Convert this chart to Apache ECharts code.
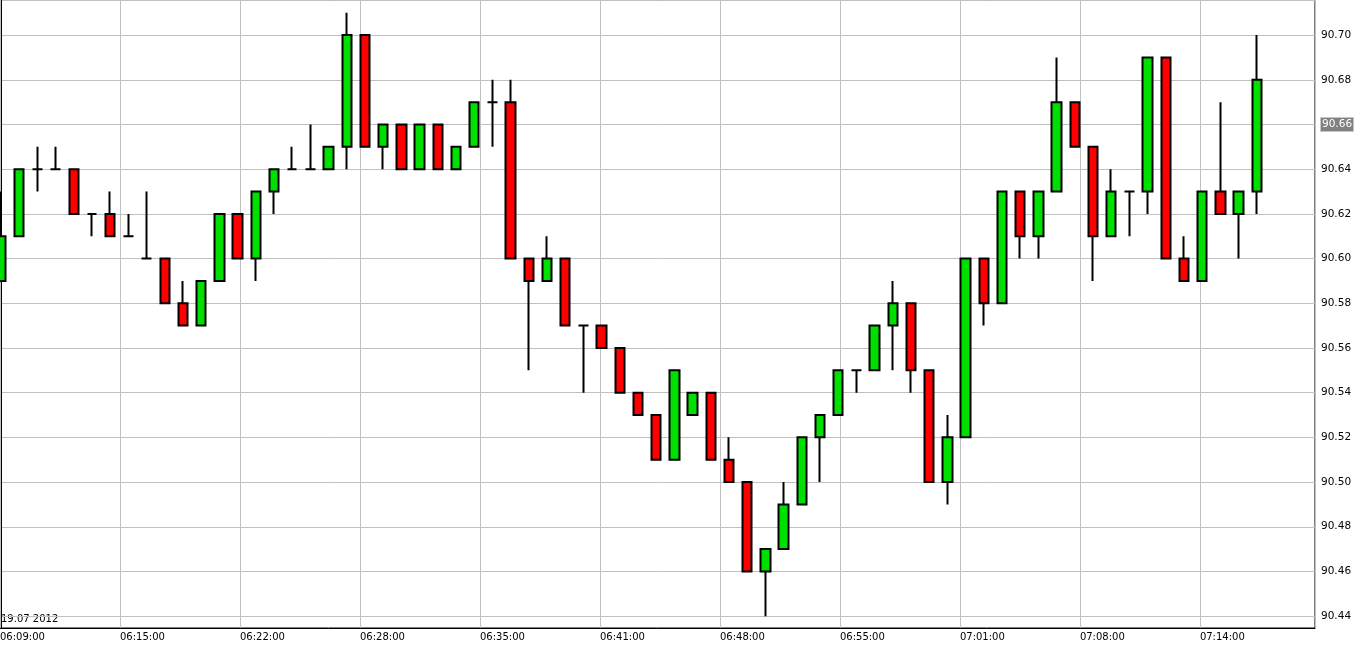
<!DOCTYPE html>
<html><head><meta charset="utf-8">
<script src="https://cdn.jsdelivr.net/npm/echarts@6/dist/echarts.min.js"></script>
<style>html,body{margin:0;padding:0;background:#fff}#c{width:1361px;height:649px}</style>
</head><body><div id="c"></div>
<script>
const open  = [90.59,90.61,90.64,90.64,90.64,90.62,90.62,90.61,90.60,90.60,90.58,90.57,90.59,90.62,90.60,90.63,90.64,90.64,90.64,90.65,90.70,90.65,90.66,90.64,90.66,90.64,90.65,90.67,90.67,90.60,90.59,90.60,90.57,90.57,90.56,90.54,90.53,90.51,90.53,90.54,90.51,90.50,90.46,90.47,90.49,90.52,90.53,90.55,90.55,90.57,90.58,90.55,90.50,90.52,90.60,90.58,90.63,90.61,90.63,90.67,90.65,90.61,90.63,90.63,90.69,90.60,90.59,90.63,90.62,90.63];
const high  = [90.63,90.64,90.65,90.65,90.64,90.62,90.63,90.62,90.63,90.60,90.59,90.59,90.62,90.62,90.63,90.64,90.65,90.66,90.65,90.71,90.70,90.66,90.66,90.66,90.66,90.65,90.67,90.68,90.68,90.60,90.61,90.60,90.57,90.57,90.56,90.54,90.53,90.55,90.54,90.54,90.52,90.50,90.47,90.50,90.52,90.53,90.55,90.55,90.57,90.59,90.58,90.55,90.53,90.60,90.60,90.63,90.63,90.63,90.69,90.67,90.65,90.64,90.63,90.69,90.69,90.61,90.63,90.67,90.63,90.70];
const low   = [90.59,90.61,90.63,90.64,90.62,90.61,90.61,90.61,90.60,90.58,90.57,90.57,90.59,90.60,90.59,90.62,90.64,90.64,90.64,90.64,90.65,90.64,90.64,90.64,90.64,90.64,90.65,90.65,90.60,90.55,90.59,90.57,90.54,90.56,90.54,90.53,90.51,90.51,90.53,90.51,90.50,90.46,90.44,90.47,90.49,90.50,90.53,90.54,90.55,90.55,90.54,90.50,90.49,90.52,90.57,90.58,90.60,90.60,90.63,90.65,90.59,90.61,90.61,90.62,90.60,90.59,90.59,90.62,90.60,90.62];
const close = [90.61,90.64,90.64,90.64,90.62,90.62,90.61,90.61,90.60,90.58,90.57,90.59,90.62,90.60,90.63,90.64,90.64,90.64,90.65,90.70,90.65,90.66,90.64,90.66,90.64,90.65,90.67,90.67,90.60,90.59,90.60,90.57,90.57,90.56,90.54,90.53,90.51,90.55,90.54,90.51,90.50,90.46,90.47,90.49,90.52,90.53,90.55,90.55,90.57,90.58,90.55,90.50,90.52,90.60,90.58,90.63,90.61,90.63,90.67,90.65,90.61,90.63,90.63,90.69,90.60,90.59,90.63,90.62,90.63,90.68];
const timeLabels = ['06:09:00','06:15:00','06:22:00','06:28:00','06:35:00','06:41:00','06:48:00','06:55:00','07:01:00','07:08:00','07:14:00'];
const lastPrice = '90.66';
const dateText = '19.07 2012';

const data = open.map((o,i)=>[i,o,close[i],low[i],high[i]]);
const XMIN=-0.055, XINT=6.593, XMAX=72.2;
const chart = echarts.init(document.getElementById('c'));
chart.setOption({
  animation:false,
  backgroundColor:'#fff',
  grid:{left:0,right:46,top:0,bottom:21,outerBoundsMode:'none',containLabel:false,show:true,borderColor:'#000',borderWidth:1},
  xAxis:{type:'value',min:XMIN,max:XMAX,interval:XINT,
    axisLine:{show:true,lineStyle:{color:'#000'}},axisTick:{show:false},
    splitLine:{show:true,lineStyle:{color:'#c0c0c0'}},
    axisLabel:{showMaxLabel:false,color:'#000',fontFamily:'DejaVu Sans',fontSize:10,margin:4,align:'left',
      formatter:v=>{const k=Math.round((v-XMIN)/XINT);return timeLabels[k]||'';}}},
  yAxis:{type:'value',position:'right',min:90.4347,max:90.7157,splitNumber:14,
    axisLine:{show:true,lineStyle:{color:'#000'}},axisTick:{show:false},
    splitLine:{show:true,lineStyle:{color:'#c0c0c0'}},
    axisLabel:{color:'#000',fontFamily:'DejaVu Sans',fontSize:10.5,margin:6,
      formatter:v=>{const r=Math.round(v*100);if(Math.abs(v*100-r)>0.01||r%2)return '';const s=(r/100).toFixed(2);return s===lastPrice?'{hl|'+s+'}':s;},
      rich:{hl:{backgroundColor:'#808080',color:'#fff',fontFamily:'DejaVu Sans',fontSize:10.5,padding:[1,1],borderColor:'#c8c8c8',borderWidth:1}}}},
  graphic:[{type:'text',left:1,top:614,style:{text:dateText,fill:'#000',font:'10px DejaVu Sans'}}],
  series:[{type:'candlestick',data:data,encode:{x:0,y:[1,2,3,4]},barWidth:10,
    itemStyle:{color:'#00e000',color0:'#ff0000',borderColor:'#000',borderColor0:'#000',borderColorDoji:'#000',borderWidth:2}}]
});
</script></body></html>
